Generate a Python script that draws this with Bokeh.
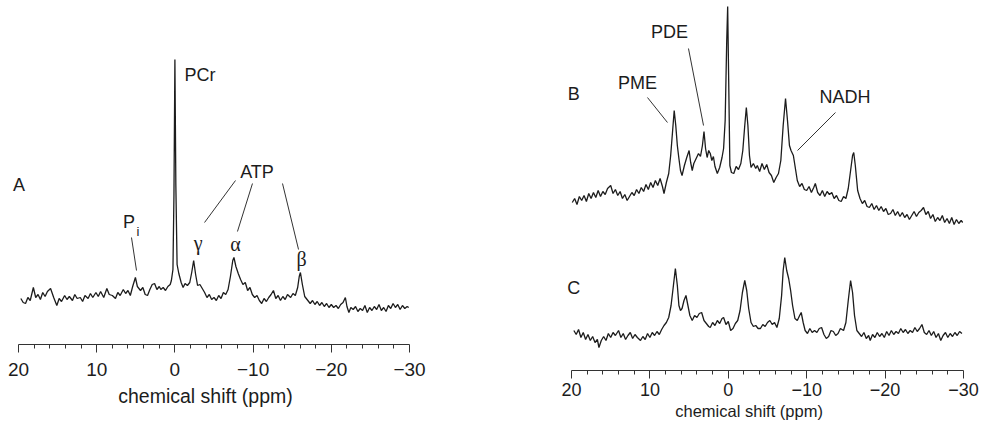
from bokeh.plotting import figure
from bokeh.models import Range1d, FixedTicker, LinearAxis
from bokeh.core.properties import value
from bokeh.embed import file_html
from bokeh.resources import INLINE

# ---------------- data ----------------
# Spectrum A: chemical shift (ppm) and intensity (arbitrary units)
A_ppm = [19.7, 19.4, 19.1, 18.8, 18.5, 18.1, 17.8, 17.5, 17.2, 16.9, 16.6, 16.3, 15.9, 15.5, 15.1,
         14.8, 14.5, 14.1, 13.8, 13.5, 13.1, 12.8, 12.5, 12.1, 11.8, 11.5, 11.1, 10.8, 10.5, 10.1,
         9.8, 9.5, 9.1, 8.7, 8.4, 8.0, 7.6, 7.3, 7.0, 6.6, 6.3, 6.0, 5.7, 5.4, 5.05, 4.8, 4.4, 4.1,
         3.8, 3.5, 3.2, 2.9, 2.6, 2.3, 2.0, 1.8, 1.5, 1.2, 0.9, 0.6, 0.45, 0.25, 0.12, 0.0, -0.12,
         -0.28, -0.5, -0.8, -1.05, -1.3, -1.6, -1.9, -2.15, -2.4, -2.65, -2.9, -3.2, -3.5, -3.8,
         -4.1, -4.4, -4.7, -5.0, -5.3, -5.6, -5.9, -6.2, -6.5, -6.8, -7.1, -7.4, -7.55, -7.8, -8.1,
         -8.4, -8.7, -9.0, -9.3, -9.6, -9.9, -10.2, -10.5, -10.8, -11.1, -11.4, -11.7, -12.0, -12.3,
         -12.6, -12.9, -13.2, -13.5, -13.8, -14.1, -14.4, -14.8, -15.1, -15.4, -15.7, -15.9, -16.05,
         -16.3, -16.6, -16.9, -17.3, -17.6, -17.9, -18.2, -18.5, -18.8, -19.1, -19.4, -19.7, -20.0,
         -20.3, -20.6, -20.9, -21.2, -21.5, -21.8, -22.0, -22.25, -22.5, -22.8, -23.1, -23.4, -23.7,
         -24.0, -24.3, -24.6, -24.9, -25.2, -25.5, -25.8, -26.1, -26.4, -26.7, -27.0, -27.3, -27.6,
         -27.9, -28.2, -28.5, -28.8, -29.1, -29.4, -29.7, -29.9]
A_int = [46, 42, 41, 47, 44, 57, 47, 50, 45, 52, 48, 53, 56, 47, 39,
         46, 43, 49, 45, 48, 44, 50, 46, 47, 43, 49, 46, 51, 47, 52,
         48, 53, 47, 56, 50, 49, 46, 52, 49, 55, 51, 54, 49, 58, 67, 58, 54, 57,
         50, 49, 55, 60, 61, 55, 58, 55, 57, 54, 58, 60, 64, 75, 150, 285, 160,
         80, 71, 62, 57, 61, 59, 62, 72, 84, 70, 59, 60, 56, 52,
         47, 50, 45, 47, 44, 49, 46, 52, 50, 55, 68, 84, 87, 78, 71,
         65, 60, 62, 54, 57, 50, 47, 49, 44, 41, 46, 43, 47, 50,
         54, 46, 49, 44, 48, 45, 50, 47, 51, 49, 57, 68, 72,
         60, 48, 45, 41, 44, 40, 43, 39, 42, 38, 41, 37, 40,
         37, 39, 36, 40, 42, 47, 38, 32, 37, 35, 38, 33, 36,
         34, 39, 32, 37, 34, 38, 35, 40, 34, 37, 33, 39, 36,
         41, 37, 40, 35, 39, 36, 38, 37]

# Spectrum B
B_ppm = [19.9, 19.6, 19.3, 19.0, 18.7, 18.4, 18.1, 17.8, 17.5, 17.2, 16.9, 16.6, 16.3, 16.0, 15.7,
         15.4, 15.0, 14.7, 14.4, 14.1, 13.8, 13.5, 13.2, 12.9, 12.6, 12.3, 12.0, 11.7, 11.4, 11.1,
         10.8, 10.5, 10.2, 9.9, 9.6, 9.3, 9.0, 8.7, 8.4, 8.2, 7.9, 7.6, 7.35, 7.1, 6.9, 6.7, 6.5,
         6.3, 6.1, 5.9, 5.6, 5.3, 5.0, 4.8, 4.6, 4.4, 4.1, 3.8, 3.55, 3.3, 3.1, 2.9, 2.7, 2.5, 2.3,
         2.1, 1.9, 1.7, 1.4, 1.1, 0.8, 0.6, 0.4, 0.2, 0.08, -0.05, -0.2, -0.4, -0.7, -1.0, -1.3,
         -1.6, -1.85, -2.1, -2.3, -2.5, -2.7, -2.9, -3.2, -3.5, -3.7, -4.0, -4.3, -4.6, -4.9, -5.2,
         -5.5, -5.8, -6.1, -6.4, -6.7, -7.0, -7.3, -7.55, -7.8, -8.0, -8.3, -8.6, -8.8, -9.1, -9.4,
         -9.7, -10.0, -10.3, -10.6, -10.9, -11.1, -11.4, -11.7, -12.0, -12.3, -12.6, -12.9, -13.2,
         -13.5, -13.8, -14.1, -14.4, -14.7, -15.0, -15.3, -15.6, -15.85, -16.0, -16.2, -16.5, -16.8,
         -17.1, -17.4, -17.7, -18.0, -18.3, -18.6, -18.9, -19.2, -19.5, -19.8, -20.1, -20.4, -20.7,
         -21.0, -21.3, -21.6, -21.9, -22.2, -22.5, -22.8, -23.1, -23.4, -23.7, -24.0, -24.3, -24.6,
         -24.9, -25.2, -25.5, -25.8, -26.1, -26.4, -26.7, -27.0, -27.3, -27.6, -27.9, -28.2, -28.5,
         -28.8, -29.1, -29.4, -29.7, -29.9]
B_int = [168, 172, 166, 174, 170, 175, 169, 177, 172, 178, 173, 180, 174, 179, 176,
         182, 185, 177, 181, 175, 179, 172, 176, 170, 174, 178, 175, 181, 177, 183,
         179, 186, 181, 188, 183, 190, 185, 192, 184, 177, 188, 197, 215, 240, 260, 245, 225,
         212, 200, 195, 205, 213, 220, 208, 200, 207, 212, 217, 214, 225, 239, 222, 213, 220, 217,
         210, 214, 204, 197, 203, 213, 222, 250, 330, 364, 290, 205, 198, 197, 204, 201,
         207, 220, 245, 263, 245, 215, 203, 207, 202, 205, 199, 207, 201, 206, 198,
         195, 188, 193, 197, 210, 245, 272, 250, 225, 220, 215, 200, 190, 184, 187,
         181, 180, 184, 178, 183, 187, 178, 175, 180, 174, 179, 176, 178,
         172, 175, 170, 169, 174, 172, 182, 200, 215, 218, 205, 180, 172,
         167, 170, 164, 163, 167, 161, 165, 160, 164, 159, 162, 156, 157,
         161, 155, 159, 154, 158, 153, 156, 151, 155, 159, 154, 158, 160,
         163, 156, 159, 152, 156, 149, 153, 150, 155, 148, 152, 147, 153,
         146, 151, 147, 150, 148]

# Spectrum C
C_ppm = [19.7, 19.4, 19.1, 18.8, 18.5, 18.2, 17.9, 17.6, 17.3, 17.0, 16.7, 16.5, 16.2, 15.9, 15.6,
         15.3, 15.0, 14.7, 14.4, 14.0, 13.7, 13.4, 13.1, 12.8, 12.5, 12.2, 11.9, 11.6, 11.2, 10.9,
         10.6, 10.3, 10.0, 9.7, 9.4, 9.1, 8.8, 8.5, 8.2, 7.9, 7.6, 7.3, 7.0, 6.75, 6.5, 6.3, 6.1,
         5.9, 5.65, 5.4, 5.15, 4.9, 4.6, 4.3, 4.0, 3.7, 3.4, 3.1, 2.8, 2.5, 2.3, 2.0, 1.7, 1.4, 1.1,
         0.8, 0.6, 0.3, 0.0, -0.3, -0.6, -0.9, -1.2, -1.5, -1.8, -2.1, -2.35, -2.6, -2.9, -3.2, -3.5,
         -3.8, -4.1, -4.4, -4.7, -5.0, -5.3, -5.6, -5.9, -6.2, -6.5, -6.8, -7.0, -7.2, -7.45, -7.7,
         -7.95, -8.2, -8.5, -8.8, -9.1, -9.3, -9.55, -9.8, -10.1, -10.4, -10.7, -11.0, -11.3, -11.6,
         -11.9, -12.2, -12.5, -12.8, -13.1, -13.4, -13.7, -14.0, -14.3, -14.7, -15.0, -15.3, -15.6,
         -15.85, -16.1, -16.4, -16.7, -17.0, -17.3, -17.6, -17.9, -18.1, -18.4, -18.7, -19.0, -19.3,
         -19.6, -19.9, -20.2, -20.5, -20.8, -21.1, -21.4, -21.7, -22.0, -22.3, -22.6, -22.9, -23.2,
         -23.5, -23.8, -24.1, -24.4, -24.7, -25.0, -25.3, -25.6, -25.9, -26.2, -26.5, -26.8, -27.1,
         -27.4, -27.7, -28.0, -28.3, -28.6, -28.9, -29.2, -29.5, -29.8]
C_int = [40, 36, 41, 33, 38, 31, 36, 30, 34, 28, 31, 23, 30, 34, 30,
         37, 33, 38, 35, 40, 33, 37, 31, 35, 38, 32, 36, 33, 30, 34,
         31, 37, 33, 38, 35, 39, 36, 41, 45, 48, 53, 65, 85, 102, 85, 65, 60,
         62, 70, 75, 65, 55, 50, 55, 53, 57, 58, 50, 47, 44, 43, 48, 45, 50, 47,
         52, 53, 46, 49, 40, 42, 47, 50, 60, 78, 90, 80, 62, 48, 44, 45,
         42, 42, 46, 44, 48, 50, 46, 48, 43, 52, 75, 100, 113, 100, 92,
         80, 65, 52, 50, 55, 58, 48, 40, 37, 42, 38, 40, 38, 42,
         43, 36, 32, 34, 40, 39, 35, 37, 42, 40, 48, 70, 90,
         78, 55, 40, 37, 34, 38, 32, 35, 30, 36, 33, 38, 34,
         37, 33, 39, 35, 40, 36, 39, 37, 42, 38, 41, 37, 40,
         38, 43, 39, 42, 46, 38, 36, 40, 35, 39, 33, 37, 30,
         35, 38, 33, 37, 34, 38, 35, 39, 37]

# Axis ticks
major_ticks = [20, 10, 0, -10, -20, -30]
major_labels = ["20", "10", "0", "\u221210", "\u221220", "\u221230"]
minor_ticks = [18, 16, 14, 12, 8, 6, 4, 2, -2, -4, -6, -8, -12, -14, -16, -18,
               -22, -24, -26, -28]
axis_title = "chemical shift (ppm)"

# Peak labels (text, ppm, intensity)
A_label_pcr = [("PCr", -1.23, 270)]
A_labels = [("ATP", -10.5, 173), ("A", 19.94, 160), ("P", 5.87, 123)]
A_sub = [("i", 4.72, 113)]
A_greek = [("\u03b3", -2.98, 102), ("\u03b1", -7.75, 101), ("\u03b2", -16.19, 86)]
A_lines = [((-7.75, 164), (-3.79, 122)), ((-9.92, 161), (-8.0, 113)),
           ((-13.76, 161), (-15.81, 95)), ((5.55, 107), (4.91, 74))]
R_labels = [("B", 19.71, 277), ("C", 19.71, 83), ("PME", 11.58, 288),
            ("PDE", 7.5, 339), ("NADH", -14.88, 274)]
R_lines = [((10.31, 273), (7.76, 248)), ((5.08, 322), (3.16, 245)),
           ((-13.67, 258), (-8.83, 220))]

# ---------------- styling / layout ----------------
FONT = "Liberation Sans"
SERIF = "Liberation Serif"
INK = "#1c1c1c"
W, H = 982, 434

# panel geometry (pixels): position of 20 ppm, px per ppm, axis line from top
A_X20, A_PX, A_AXIS = 18, 7.82, 344
R_X20, R_PX, R_AXIS = 571, 7.84, 370

p = figure(width=W, height=H, output_backend="svg", toolbar_location=None,
           x_range=Range1d(20 + A_X20 / A_PX, 20 - (W - A_X20) / A_PX),
           y_range=Range1d(-(H - A_AXIS), A_AXIS),
           x_axis_location=None, y_axis_location=None,
           min_border_left=0, min_border_right=0, min_border_top=0, min_border_bottom=0)
p.extra_x_ranges = {"R": Range1d(20 + R_X20 / R_PX, 20 - (W - R_X20) / R_PX)}
p.extra_y_ranges = {"R": Range1d(-(H - R_AXIS), R_AXIS)}
p.outline_line_color = None
p.xgrid.visible = False
p.ygrid.visible = False
p.background_fill_color = "white"
p.border_fill_color = "white"


def make_axis(rng, tick_size, standoff):
    ax = LinearAxis(x_range_name=rng, y_range_name=rng, fixed_location=0)
    ax.bounds = (-30, 20)
    ax.ticker = FixedTicker(ticks=major_ticks, minor_ticks=minor_ticks)
    ax.major_label_overrides = {t: l for t, l in zip(major_ticks, major_labels)}
    ax.major_label_text_font = FONT
    ax.major_label_text_font_size = tick_size
    ax.major_label_text_color = INK
    ax.major_label_standoff = standoff
    ax.axis_line_color = "#333333"
    ax.major_tick_line_color = "#333333"
    ax.minor_tick_line_color = "#333333"
    ax.major_tick_in = 0
    ax.major_tick_out = 8
    ax.minor_tick_in = 0
    ax.minor_tick_out = 4
    p.add_layout(ax, "below")


def texts(items, rng, font, size, align="center"):
    p.text([t[1] for t in items], [t[2] for t in items], text=[t[0] for t in items],
           x_range_name=rng, y_range_name=rng,
           text_font=value(font), text_font_size=size, text_color=INK,
           text_align=align, text_baseline="middle")


def segs(items, rng):
    p.segment([s[0][0] for s in items], [s[0][1] for s in items],
              [s[1][0] for s in items], [s[1][1] for s in items],
              x_range_name=rng, y_range_name=rng, line_color="#333333", line_width=1)


# Left panel (A) -- default ranges
make_axis("default", "19px", 10)
p.line(A_ppm, A_int, line_color=INK, line_width=1.3)
texts(A_label_pcr, "default", FONT, "18px", "left")
texts(A_labels, "default", FONT, "18px")
texts(A_sub, "default", FONT, "13px")
texts(A_greek, "default", SERIF, "20px")
segs(A_lines, "default")
texts([(axis_title, -3.91, -51)], "default", FONT, "19.5px")

# Right panel (B, C)
make_axis("R", "18px", 4)
p.line(B_ppm, B_int, x_range_name="R", y_range_name="R", line_color=INK, line_width=1.3)
p.line(C_ppm, C_int, x_range_name="R", y_range_name="R", line_color=INK, line_width=1.3)
texts(R_labels, "R", FONT, "18px")
segs(R_lines, "R")
texts([(axis_title, -2.65, -40)], "R", FONT, "16.5px")

open("out.html", "w").write(file_html(p, INLINE))
